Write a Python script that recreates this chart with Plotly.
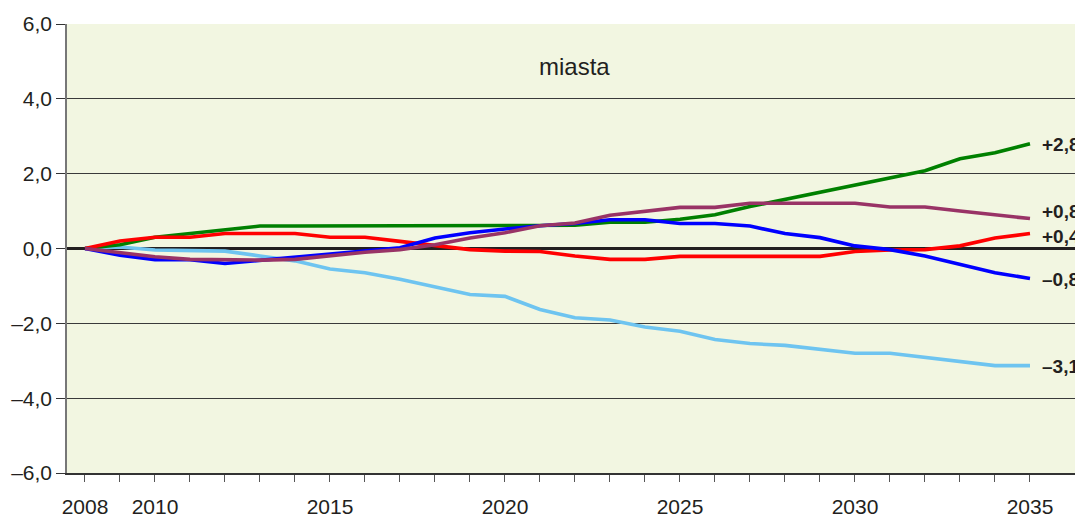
import plotly.graph_objects as go

years = list(range(2008, 2036))

green = [0, 0.1, 0.3, 0.4, 0.5, 0.6, 0.6, 0.6, 0.6, 0.6, 0.6, 0.6, 0.6, 0.6,
         0.62, 0.7, 0.7, 0.78, 0.9, 1.12, 1.31, 1.5, 1.7, 1.88, 2.08, 2.4, 2.56, 2.8]
red = [0, 0.2, 0.3, 0.3, 0.4, 0.4, 0.4, 0.3, 0.3, 0.19, 0.07, -0.03, -0.07, -0.08,
       -0.2, -0.29, -0.29, -0.21, -0.21, -0.21, -0.21, -0.21, -0.08, -0.04, -0.03, 0.07, 0.28, 0.4]
blue = [0, -0.18, -0.3, -0.3, -0.4, -0.32, -0.22, -0.14, -0.07, 0.02, 0.28, 0.42, 0.52, 0.61,
        0.67, 0.77, 0.77, 0.67, 0.67, 0.6, 0.4, 0.29, 0.07, -0.03, -0.2, -0.43, -0.65, -0.8]
purple = [0, -0.12, -0.22, -0.29, -0.31, -0.31, -0.29, -0.19, -0.1, -0.03, 0.1, 0.28, 0.42, 0.61,
          0.68, 0.89, 1.0, 1.1, 1.1, 1.21, 1.21, 1.21, 1.21, 1.11, 1.11, 1.0, 0.89, 0.8]
lightblue = [0, 0.04, -0.04, -0.05, -0.07, -0.2, -0.33, -0.55, -0.65, -0.82, -1.02, -1.23, -1.28, -1.63,
             -1.85, -1.91, -2.1, -2.21, -2.43, -2.54, -2.59, -2.69, -2.8, -2.8, -2.91, -3.03, -3.13, -3.13]

end_labels = ["+2,8", "+0,8", "+0,4", "–0,8", "–3,1"]
end_label_y = [2.77, 1.0, 0.33, -0.83, -3.16]

y_tickvals = [6, 4, 2, 0, -2, -4, -6]
y_ticktext = ["6,0", "4,0", "2,0", "0,0", "–2,0", "–4,0", "–6,0"]
x_labelled = [2008, 2010, 2015, 2020, 2025, 2030, 2035]
x_ticktext = [str(y) if y in x_labelled else "" for y in years]

title_text = "miasta"

FONT = "Arial, 'Liberation Sans', sans-serif"
TXT = "#231f20"

fig = go.Figure()
series = [
    (lightblue, "#6ec4f0"),
    (green, "#008000"),
    (red, "#ff0000"),
    (blue, "#0000ff"),
    (purple, "#993366"),
]
for vals, col in series:
    fig.add_trace(go.Scatter(x=years, y=vals, mode="lines",
                             line=dict(color=col, width=3.6),
                             hoverinfo="skip", showlegend=False, cliponaxis=False))

for txt, yv in zip(end_labels, end_label_y):
    fig.add_annotation(x=2035.28, y=yv, xref="x", yref="y", text=txt,
                       showarrow=False, xanchor="left", yanchor="middle",
                       font=dict(family=FONT, size=19, color=TXT, weight="bold"))

fig.add_annotation(x=2021.98, y=4.86, xref="x", yref="y", text=title_text,
                   showarrow=False, xanchor="center", yanchor="middle",
                   font=dict(family=FONT, size=24, color=TXT))

fig.update_layout(
    width=1075, height=518,
    margin=dict(l=67, r=0, t=24, b=41),
    paper_bgcolor="white",
    plot_bgcolor="#f2f6e1",
    font=dict(family=FONT, size=21, color=TXT),
    showlegend=False,
)
fig.update_xaxes(
    range=[2007.486, 2036.286],
    tickvals=years, ticktext=x_ticktext,
    ticks="outside", ticklen=7, tickwidth=1, tickcolor="#555555",
    ticklabelstandoff=7,
    showgrid=False, zeroline=False,
    showline=True, linecolor="#333333", linewidth=1.5,
    tickfont=dict(family=FONT, size=21, color=TXT),
)
fig.update_yaxes(
    range=[-6, 6],
    tickvals=y_tickvals, ticktext=y_ticktext,
    ticks="outside", ticklen=9, tickwidth=1, tickcolor="#333333",
    showgrid=True, gridcolor="#3a3a3a", gridwidth=1,
    zeroline=True, zerolinecolor="#231f20", zerolinewidth=3,
    showline=True, linecolor="#777777", linewidth=1.5,
    tickfont=dict(family=FONT, size=21, color=TXT),
)

fig.write_html(
    "out.html",
    config={"displayModeBar": False},
    post_script="document.body.style.margin='0';document.body.style.overflow='hidden';"
                "document.documentElement.style.overflow='hidden';",
)
